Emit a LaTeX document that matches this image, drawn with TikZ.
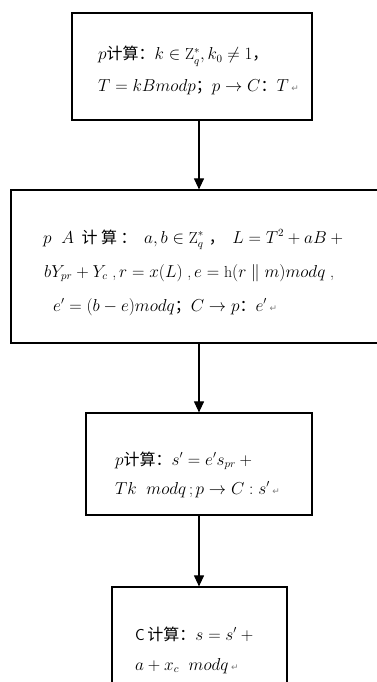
\documentclass[tikz,border=0pt]{standalone}
\usepackage{fontspec}
\newfontfamily\cjk{Noto Sans CJK SC}
\newfontfamily\dv{DejaVu Sans}
\usetikzlibrary{arrows.meta}
\newcommand{\retmark}{{\dv\fontsize{9}{9}\selectfont\color{gray}↵}}
\begin{document}
\begin{tikzpicture}[x=1pt,y=-1pt,
  box/.style={draw, line width=1.2pt, inner sep=0pt},
  txt/.style={anchor=base west, inner sep=0pt, font=\fontsize{16}{19}\selectfont},
  arr/.style={-{Triangle[length=11pt,width=10pt]}, line width=1.1pt}]
\useasboundingbox (0,0) rectangle (377,682);
\node[box, minimum width=240pt, minimum height=107pt] (b1) at (192,66.5) {};
\node[box, minimum width=379pt, minimum height=153pt] (b2) at (200.5,266.5) {};
\node[box, minimum width=226pt, minimum height=102pt] (b3) at (199,464) {};
\node[box, minimum width=175pt, minimum height=113pt] (b4) at (199.5,643.5) {};
\coordinate (ax) at (199,0);
\draw[arr] (b1.south -| ax) -- (b2.north -| ax);
\draw[arr] (b2.south -| ax) -- (b3.north -| ax);
\draw[arr] (b3.south -| ax) -- (b4.north -| ax);
% box 1
\node[txt] (t1a) at (98,60) {$p${\cjk 计算：}$k\in\mathrm{Z}_q^*, k_0\neq 1${\cjk ，}};
\node[txt] (t1b) at (98,92) {$T = kBmodp${\cjk ；}$p\rightarrow C${\cjk ：}$T$\,\retmark};
% box 2
\node[txt] (t2a) at (43,243) {$p\ \ A$\ \,{\cjk 计\ 算\ ：}\ \,$a,b\in\mathrm{Z}_q^*$\ {\cjk ，}\ \,$L = T^2 + aB +{}$};
\node[txt] (t2b) at (44,277) {$bY_{pr} + Y_c$\ ,\,$r = x(L)$\ ,\,$e = \mathrm{h}(r\parallel m)modq$\ ,};
\node[txt] (t2c) at (53,311) {$e' = (b-e)modq${\cjk ；}$C\rightarrow p${\cjk ：}$e'$\,\retmark};
% box 3
\node[txt] (t3a) at (115,465) {$p${\cjk 计算：}$s' = e's_{pr} +{}$};
\node[txt] (t3b) at (115,494) {$Tk\ \ modq$\,;\,$p\rightarrow C : s'$\,\retmark};
% box 4
\node[txt] (t4a) at (135,640) {\sffamily C\,{\cjk 计算：}$s = s' +{}$};
\node[txt] (t4b) at (135,670) {$a + x_c\ \ modq$\,\retmark};
\end{tikzpicture}
\end{document}
